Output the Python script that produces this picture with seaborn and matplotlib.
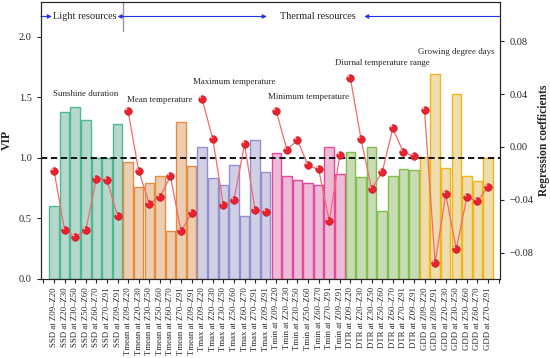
import matplotlib
matplotlib.use("Agg")
import matplotlib.pyplot as plt
import seaborn as sns
import numpy as np
import pandas as pd
from matplotlib.path import Path
from matplotlib.markers import MarkerStyle

# variables and growth stages
groups = ["SSD", "Tmean", "Tmax", "Tmin", "DTR", "GDD"]
group_names = ["Sunshine duration", "Mean temperature", "Maximum temperature",
               "Minimum temperature", "Diurnal temperature range", "Growing degree days"]
stages = ["Z09–Z20", "Z20–Z30", "Z30–Z50", "Z50–Z60", "Z60–Z70", "Z70–Z91", "Z09–Z91"]
gdd_stages = ["Z09–Z20", "Z09–Z91", "Z20–Z30", "Z30–Z50", "Z50–Z60", "Z60–Z70", "Z70–Z91"]

# VIP values (left axis)
vip_ssd = [0.60, 1.38, 1.42, 1.31, 1.00, 1.00, 1.28]
vip_tmean = [0.97, 0.76, 0.79, 0.85, 0.40, 1.30, 0.93]
vip_tmax = [1.09, 0.83, 0.78, 0.94, 0.52, 1.15, 0.88]
vip_tmin = [1.04, 0.85, 0.82, 0.79, 0.78, 1.09, 0.87]
vip_dtr = [1.05, 0.84, 1.09, 0.56, 0.85, 0.91, 0.90]
vip_gdd = [1.01, 1.69, 0.92, 1.53, 0.85, 0.81, 1.00]

# regression coefficients (right axis)
coef_ssd = [-0.018, -0.063, -0.068, -0.063, -0.024, -0.025, -0.052]
coef_tmean = [0.027, -0.018, -0.043, -0.038, -0.022, -0.064, -0.050]
coef_tmax = [0.036, 0.006, -0.044, -0.040, 0.002, -0.048, -0.049]
coef_tmin = [0.027, -0.002, 0.005, -0.014, -0.017, -0.056, -0.006]
coef_dtr = [0.052, 0.006, -0.032, -0.019, 0.014, -0.004, -0.007]
coef_gdd = [0.028, -0.088, -0.036, -0.077, -0.038, -0.041, -0.030]

edge_colors = ["#4fb993", "#e88b3a", "#938fd0", "#e8479f", "#7fbf4a", "#f2b51a"]
fill_colors = ["#b0decd", "#f5cca8", "#cdcbe8", "#f4b3d7", "#c6e2ae", "#f9e2a3"]

vips = [vip_ssd, vip_tmean, vip_tmax, vip_tmin, vip_dtr, vip_gdd]
coefs = [coef_ssd, coef_tmean, coef_tmax, coef_tmin, coef_dtr, coef_gdd]

rows = []
for g, v, c in zip(groups, vips, coefs):
    st = gdd_stages if g == "GDD" else stages
    for s, vv, cc in zip(st, v, c):
        rows.append({"group": g, "label": f"{g} at {s}", "vip": vv, "coef": cc})
df = pd.DataFrame(rows)
df["pos"] = np.arange(len(df))
labels = list(df["label"])

sns.set_style("ticks")
plt.rcParams["font.family"] = ["Liberation Serif", "DejaVu Serif"]
plt.rcParams["axes.linewidth"] = 0.8

fig = plt.figure(figsize=(5.5, 3.58), dpi=100)
ax = fig.add_axes([0.0745, 0.2207, 0.835, 0.7745])

sns.barplot(data=df, x="label", y="vip", hue="group", order=labels,
            hue_order=groups, palette=fill_colors, dodge=False, width=0.9,
            linewidth=1.0, legend=False, ax=ax)
for cont, ec in zip(ax.containers, edge_colors):
    for bar in cont:
        bar.set_edgecolor(ec)

ax.axhline(1.0, color="black", lw=1.3, ls=(0, (3.5, 2)), zorder=3)

ax2 = ax.twinx()
sns.lineplot(data=df, x="pos", y="coef", units="group", estimator=None,
             color="#f26b6b", lw=0.9, legend=False, ax=ax2)
sns.scatterplot(data=df, x="pos", y="coef", color="#e8222e", edgecolor="#b81a22",
                linewidth=0.4, s=30, zorder=4, legend=False, ax=ax2)
hl = MarkerStyle(Path.circle(center=(-0.3, 0.3), radius=0.14))
sns.scatterplot(data=df, x="pos", y="coef", marker=hl, color="#ffe0e0", alpha=0.9,
                linewidth=0, s=22, zorder=5, legend=False, ax=ax2)

# axes limits / ticks
ax.set_xlim(-1.23, 42.15)
ax.set_ylim(0, 2.29)
ax.set_yticks([0.0, 0.5, 1.0, 1.5, 2.0])
ax.set_yticklabels(["0.0", "0.5", "1.0", "1.5", "2.0"], fontsize=7.5)
ax.set_xticks(range(-1, len(labels) + 1))
ax.set_xticklabels([""] + labels + [""], rotation=90, fontsize=6.3)
ax.tick_params(axis="both", direction="out", length=3.2, width=0.8)
ax.tick_params(axis="x", pad=2.5)
ax.set_xlabel("")
ax.set_ylabel("VIP", fontsize=8.5, fontweight="bold", labelpad=4)

ax2.set_ylim(-0.1, 0.11)
ax2.set_yticks([-0.08, -0.04, 0.0, 0.04, 0.08])
ax2.set_yticklabels(["−0.08", "−0.04", "0.00", "0.04", "0.08"], fontsize=7.5)
ax2.tick_params(axis="y", direction="out", length=3.2, width=0.8)
ax2.set_xlabel("")
ax2.set_ylabel("Regression coefficients", fontsize=8.3, fontweight="bold", labelpad=3)
ax2.set_xlim(-1.23, 42.15)

# group names
label_y = [1.53, 1.476, 1.63, 1.50, 1.786, 1.874]
for i, (name, yy) in enumerate(zip(group_names, label_y)):
    ax.text(i * 7 + 3, yy, name, ha="center", va="center", fontsize=6.4)

# header with resource arrows
hy = 2.168
blue = "#2233ee"
ax.plot([6.5, 6.5], [2.05, 2.29], color="#999999", lw=1.0, clip_on=False)
arrow = dict(arrowstyle="-|>", color=blue, lw=0.8, mutation_scale=6, shrinkA=0, shrinkB=0)
ax.annotate("", xy=(-0.2, hy), xytext=(-1.23, hy), arrowprops=arrow)
ax.annotate("", xy=(6.0, hy), xytext=(6.5, hy), arrowprops=arrow)
ax.annotate("", xy=(20.1, hy), xytext=(6.5, hy), arrowprops=arrow)
ax.annotate("", xy=(29.3, hy), xytext=(42.15, hy), arrowprops=arrow)
ax.text(2.9, hy, "Light resources", ha="center", va="center", fontsize=7.4)
ax.text(24.9, hy, "Thermal resources", ha="center", va="center", fontsize=7.4)

fig.savefig("out.png", dpi=100)
